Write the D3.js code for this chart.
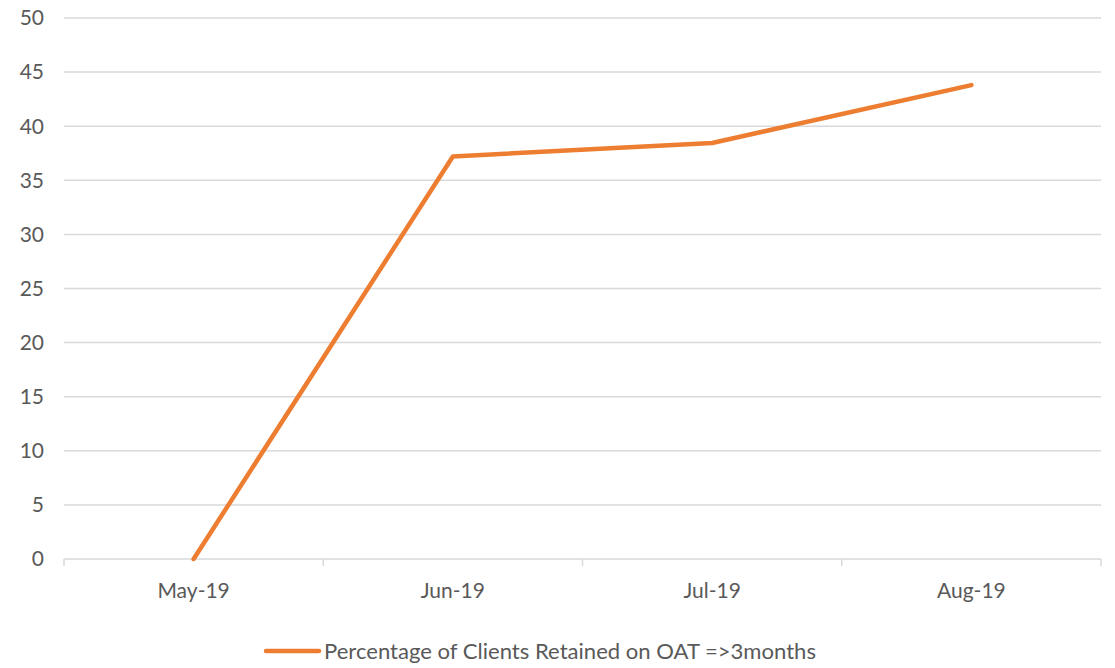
<!DOCTYPE html>
<html><head><meta charset="utf-8">
<script src="https://cdn.jsdelivr.net/npm/d3@7"></script>
<style>body{margin:0;background:#fff}svg{display:block}text{font-family:Lato,"Open Sans","Liberation Sans",sans-serif;fill:#595959}</style>
</head><body>
<svg id="c" width="1115" height="668"></svg>
<script>
const categories = ["May-19","Jun-19","Jul-19","Aug-19"];
const values = [0, 37.2, 38.45, 43.8];
const yTicks = [0,5,10,15,20,25,30,35,40,45,50];
const seriesName = "Percentage of Clients Retained on OAT =>3months";

(function(){
const svg = d3.select("#c");
const pLeft = 64, pRight = 1101, pTop = 18, pBottom = 559;
const fs = 21;
const x = d3.scaleBand().domain(categories).range([pLeft, pRight]);
const y = d3.scaleLinear().domain([0,50]).range([pBottom, pTop]);

// gridlines
svg.append("g").selectAll("line").data(yTicks.filter(d=>d>0)).join("line")
  .attr("x1", pLeft).attr("x2", pRight).attr("y1", d=>y(d)).attr("y2", d=>y(d))
  .attr("stroke", "#d9d9d9").attr("stroke-width", 1.5);

// y labels
svg.append("g").selectAll("text").data(yTicks).join("text")
  .attr("x", 44).attr("y", d=>y(d)).attr("dy", "0.35em").attr("text-anchor","end")
  .attr("font-size", fs).text(d=>d);

// x axis
svg.append("line").attr("x1", pLeft).attr("x2", pRight).attr("y1", pBottom).attr("y2", pBottom)
  .attr("stroke", "#d9d9d9").attr("stroke-width", 1.5);
const bounds = categories.map(c=>x(c)).concat([x(categories[categories.length-1]) + x.bandwidth()]);
svg.append("g").selectAll("line").data(bounds).join("line")
  .attr("x1", d=>d).attr("x2", d=>d).attr("y1", pBottom).attr("y2", pBottom+7)
  .attr("stroke", "#d9d9d9").attr("stroke-width", 1.5);
svg.append("g").selectAll("text").data(categories).join("text")
  .attr("x", d=>x(d)+x.bandwidth()/2).attr("y", 591).attr("dy","0.35em")
  .attr("text-anchor","middle").attr("font-size", fs).text(d=>d);

// line
const line = d3.line().x((d,i)=>x(categories[i])+x.bandwidth()/2).y(d=>y(d));
svg.append("path").datum(values).attr("d", line).attr("fill","none")
  .attr("stroke","#ed7d31").attr("stroke-width",4.5).attr("stroke-linejoin","round").attr("stroke-linecap","round");

// legend
svg.append("line").attr("x1",266).attr("x2",319).attr("y1",651).attr("y2",651)
  .attr("stroke","#ed7d31").attr("stroke-width",4.5).attr("stroke-linecap","round");
svg.append("text").attr("x",324).attr("y",652).attr("dy","0.35em").attr("font-size",fs)
  .attr("textLength", 492).attr("lengthAdjust","spacingAndGlyphs").text(seriesName);
})();
</script>
</body></html>
